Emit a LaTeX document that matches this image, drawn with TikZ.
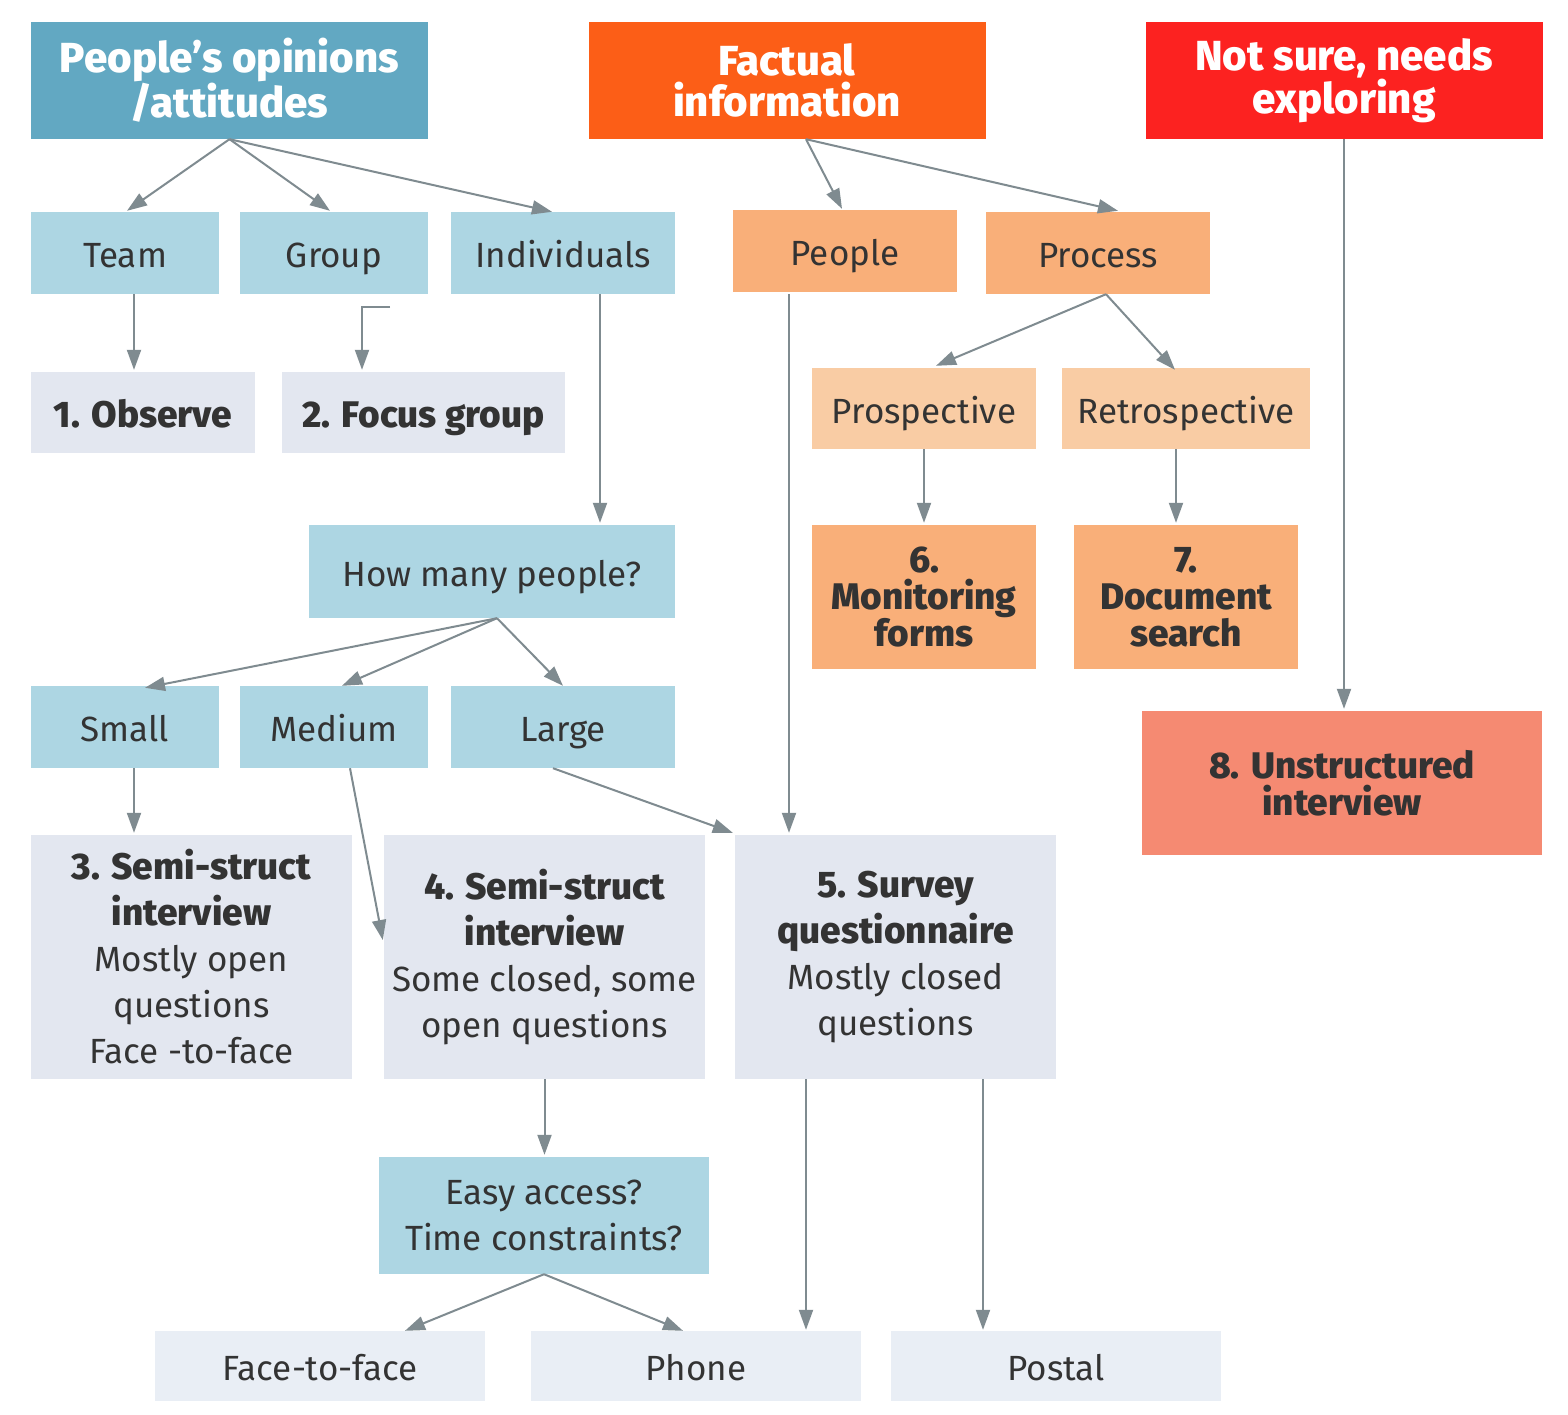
\documentclass[tikz,border=0pt]{standalone}
\usepackage{fontspec}
\setmainfont{Fira Sans}[BoldFont={Fira Sans ExtraBold}]
\usetikzlibrary{arrows.meta}
\definecolor{hblue}{HTML}{62A8C2}
\definecolor{horange}{HTML}{FC5E17}
\definecolor{hred}{HTML}{FC2220}
\definecolor{lblue}{HTML}{ADD6E3}
\definecolor{peach}{HTML}{F9AF79}
\definecolor{lpeach}{HTML}{F9CCA4}
\definecolor{greybox}{HTML}{E3E7F0}
\definecolor{lgreybox}{HTML}{E9EEF5}
\definecolor{salmon}{HTML}{F58A72}
\definecolor{arrowc}{HTML}{7F8B90}
\definecolor{txt}{HTML}{333333}
\tikzset{
  base/.style={draw=none, inner sep=0pt, align=center, text=txt, font=\fontsize{35}{46}\selectfont},
  one/.style={text height=29pt, text depth=0pt},
  hdr/.style={base, text=white, minimum width=397pt, minimum height=117pt, font=\fontsize{42}{41}\selectfont\bfseries},
  bold/.style={font=\fontsize{37}{46}\selectfont\bfseries},
  tight/.style={font=\fontsize{37}{37}\selectfont\bfseries},
  bt/.style={font=\fontsize{37}{46}\selectfont\bfseries},
  arr/.style={draw=arrowc, line width=2pt, -{Triangle[length=20pt,width=14pt]}},
}
\begin{document}
\begin{tikzpicture}[x=1pt,y=-1pt]
\fill[white] (0,0) rectangle (1568,1414);
\useasboundingbox (0,0) rectangle (1568,1414);
% headers
\node[hdr, fill=hblue] (h1) at (229.5,80.5) {People’s opinions\\/attitudes};
\node[hdr, fill=horange] (h2) at (787,80.5) {Factual\\information};
\node[hdr, fill=hred] (h3) at (1344,80.5) {Not sure, needs\\exploring};
% row 2
\node[base, one, fill=lblue, minimum width=188pt, minimum height=82pt] (team) at (125,253) {Team};
\node[base, one, fill=lblue, minimum width=188pt, minimum height=82pt] (group) at (334,253) {Group};
\node[base, one, fill=lblue, minimum width=224pt, minimum height=82pt] (ind) at (563,253) {Individuals};
\node[base, one, fill=peach, minimum width=224pt, minimum height=82pt] (people) at (845,251) {People};
\node[base, one, fill=peach, minimum width=224pt, minimum height=82pt] (process) at (1098,253) {Process};
% row 3
\node[base, one, bold, fill=greybox, minimum width=224pt, minimum height=81pt] (obs) at (143,412.5) {1. Observe};
\node[base, one, bold, fill=greybox, minimum width=283pt, minimum height=81pt] (focus) at (423.5,412.5) {2. Focus group};
\node[base, one, fill=lpeach, minimum width=224pt, minimum height=81pt] (pros) at (924,408.5) {Prospective};
\node[base, one, fill=lpeach, minimum width=248pt, minimum height=81pt] (retro) at (1186,408.5) {Retrospective};
% row 4
\node[base, one, fill=lblue, minimum width=366pt, minimum height=93pt] (hm) at (492,571.5) {How many people?};
\node[base, tight, fill=peach, minimum width=224pt, minimum height=144pt] (mon) at (924,597) {6.\\Monitoring\\forms};
\node[base, tight, fill=peach, minimum width=224pt, minimum height=144pt] (doc) at (1186,597) {7.\\Document\\search};
% row 5
\node[base, one, fill=lblue, minimum width=188pt, minimum height=82pt] (small) at (125,727) {Small};
\node[base, one, fill=lblue, minimum width=188pt, minimum height=82pt] (medium) at (334,727) {Medium};
\node[base, one, fill=lblue, minimum width=224pt, minimum height=82pt] (large) at (563,727) {Large};
\node[base, tight, fill=salmon, minimum width=400pt, minimum height=144pt] (unstr) at (1342,783) {8. Unstructured\\interview};
% row 6
\node[base, fill=greybox, minimum width=321pt, minimum height=244pt] (b3) at (191.5,957) {{\bfseries\fontsize{37}{46}\selectfont 3. Semi-struct}\\{\bfseries\fontsize{37}{46}\selectfont interview}\\Mostly open\\questions\\Face -to-face};
\node[base, fill=greybox, minimum width=321pt, minimum height=244pt] (b4) at (544.5,957) {{\bfseries\fontsize{37}{46}\selectfont 4. Semi-struct}\\{\bfseries\fontsize{37}{46}\selectfont interview}\\Some closed, some\\open questions};
\node[base, fill=greybox, minimum width=321pt, minimum height=244pt] (b5) at (895.5,957) {{\bfseries\fontsize{37}{46}\selectfont 5. Survey}\\{\bfseries\fontsize{37}{46}\selectfont questionnaire}\\Mostly closed\\questions};
% row 7
\node[base, fill=lblue, minimum width=330pt, minimum height=117pt] (easy) at (544,1215.5) {Easy access?\\Time constraints?};
% row 8
\node[base, one, fill=lgreybox, minimum width=330pt, minimum height=70pt] (face) at (320,1366) {Face-to-face};
\node[base, one, fill=lgreybox, minimum width=330pt, minimum height=70pt] (phone) at (696,1366) {Phone};
\node[base, one, fill=lgreybox, minimum width=330pt, minimum height=70pt] (postal) at (1056,1366) {Postal};
% connectors
\draw[arr] (h1.south) -- ([xshift=2pt,yshift=1pt]team.north);
\draw[arr] (h1.south) -- ([xshift=-4pt,yshift=1pt]group.north);
\draw[arr] (h1.south) -- ([xshift=-11pt]ind.north);
\draw[arr] ([xshift=9pt]team.south) -- ([xshift=9pt,yshift=2pt]team.south |- obs.north);
\coordinate (gfree) at (390,307);
\draw[arr] (gfree) -| ([xshift=-61.5pt,yshift=2pt]focus.north);
\draw[arr] ([xshift=37pt]ind.south) -- ([xshift=37pt,yshift=2pt]ind.south |- hm.north);
\draw[arr] ([xshift=5pt]hm.south) -- ([xshift=20pt,yshift=-2pt]small.north);
\draw[arr] ([xshift=5pt]hm.south) -- ([xshift=8pt]medium.north);
\draw[arr] ([xshift=5pt]hm.south) -- (large.north);
\draw[arr] ([xshift=9pt]small.south) -- ([xshift=9pt,yshift=2pt]small.south |- b3.north);
\draw[arr] ([xshift=16pt]medium.south) -- ([xshift=-1pt,yshift=17pt]b4.west);
\draw[arr] ([xshift=-10pt]large.south) -- ([xshift=-2pt,yshift=2pt]b5.north west);
\draw[arr] ([xshift=-56pt,yshift=-2pt]people.south) -- ([xshift=-56pt,yshift=2pt]people.south |- b5.north);
\draw[arr] ([xshift=19pt]h2.south) -- ([xshift=-3pt,yshift=1pt]people.north);
\draw[arr] ([xshift=19pt]h2.south) -- ([xshift=20pt,yshift=1pt]process.north);
\draw[arr] ([xshift=8pt]process.south) -- ([xshift=12pt,yshift=2pt]pros.north);
\draw[arr] ([xshift=8pt]process.south) -- ([xshift=-11pt,yshift=-2pt]retro.north);
\draw[arr] (pros.south) -- ([yshift=2pt]mon.north);
\draw[arr] ([xshift=-10pt]retro.south) -- ([xshift=-10pt,yshift=2pt]doc.north);
\draw[arr] (h3.south) -- ([yshift=2pt]h3.south |- unstr.north);
\draw[arr] (b4.south) -- ([yshift=2pt]b4.south |- easy.north);
\draw[arr] ([xshift=-89.5pt]b5.south) -- ([xshift=-89.5pt,yshift=1pt]b5.south |- phone.north);
\draw[arr] ([xshift=87.5pt]b5.south) -- ([xshift=87.5pt,yshift=1pt]b5.south |- postal.north);
\draw[arr] (easy.south) -- ([xshift=85pt]face.north);
\draw[arr] (easy.south) -- ([xshift=-13pt]phone.north);
\end{tikzpicture}
\end{document}
